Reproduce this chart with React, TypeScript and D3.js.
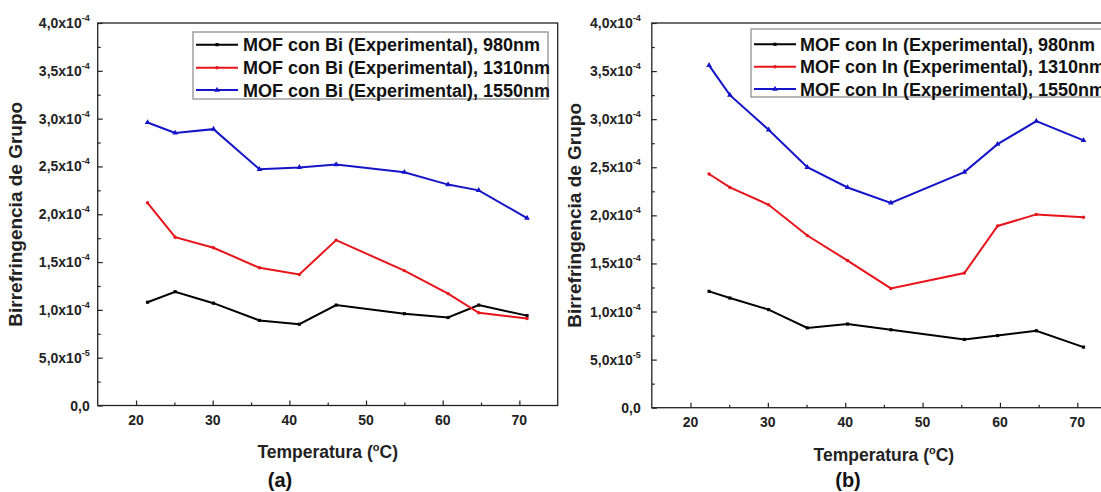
import React, { useEffect, useRef } from 'react';
import * as d3 from 'd3';

// Temperaturas (°C) de cada fibra
const tempBi = [21.5, 25.1, 30.1, 36.1, 41.3, 46.1, 55.0, 60.7, 64.7, 71.0];
const tempIn = [22.4, 25.1, 30.1, 35.1, 40.3, 45.9, 55.4, 59.7, 64.7, 70.8];

// Birrefringencia de grupo, MOF con Bi
const bi980 = [1.08e-4, 1.19e-4, 1.07e-4, 0.89e-4, 0.85e-4, 1.05e-4, 0.96e-4, 0.92e-4, 1.05e-4, 0.94e-4];
const bi1310 = [2.12e-4, 1.76e-4, 1.65e-4, 1.44e-4, 1.37e-4, 1.73e-4, 1.41e-4, 1.17e-4, 0.97e-4, 0.91e-4];
const bi1550 = [2.96e-4, 2.85e-4, 2.89e-4, 2.47e-4, 2.49e-4, 2.52e-4, 2.44e-4, 2.31e-4, 2.25e-4, 1.96e-4];

// Birrefringencia de grupo, MOF con In
const in980 = [1.21e-4, 1.14e-4, 1.02e-4, 0.83e-4, 0.87e-4, 0.81e-4, 0.71e-4, 0.75e-4, 0.80e-4, 0.63e-4];
const in1310 = [2.43e-4, 2.29e-4, 2.11e-4, 1.79e-4, 1.53e-4, 1.24e-4, 1.40e-4, 1.89e-4, 2.01e-4, 1.98e-4];
const in1550 = [3.56e-4, 3.25e-4, 2.89e-4, 2.50e-4, 2.29e-4, 2.13e-4, 2.45e-4, 2.74e-4, 2.98e-4, 2.78e-4];

const wavelengths = ['980nm', '1310nm', '1550nm'];
const colors = ['#000000', '#e8141b', '#1414c8'];

const xTicks = [20, 30, 40, 50, 60, 70];
const xMinor = [25, 35, 45, 55, 65];
const yTicks = [0, 0.5e-4, 1.0e-4, 1.5e-4, 2.0e-4, 2.5e-4, 3.0e-4, 3.5e-4, 4.0e-4];
const yMinor = [0.25e-4, 0.75e-4, 1.25e-4, 1.75e-4, 2.25e-4, 2.75e-4, 3.25e-4, 3.75e-4];
const yMantissa = ['0,0', '5,0x10', '1,0x10', '1,5x10', '2,0x10', '2,5x10', '3,0x10', '3,5x10', '4,0x10'];
const yExponent = ['', '-5', '-4', '-4', '-4', '-4', '-4', '-4', '-4'];

const FONT = '"Liberation Sans", Arial, sans-serif';

function drawPanel(svg, p) {
    const g = svg.append('g');

    const x = d3.scaleLinear().domain([15, 75]).range([p.left, p.right]);
    const y = d3.scaleLinear().domain([0, 4e-4]).range([p.bottom, p.top]);

    // frame
    g.append('rect')
        .attr('x', p.left).attr('y', p.top)
        .attr('width', p.right - p.left).attr('height', p.bottom - p.top)
        .attr('fill', 'none').attr('stroke', '#222').attr('stroke-width', 1.3);

    // ticks (inward)
    const addAxis = (axis, tr) => {
        const a = g.append('g').attr('transform', tr).call(axis);
        a.select('.domain').remove();
        a.selectAll('line').attr('stroke', '#222').attr('stroke-width', 1.2);
        a.selectAll('text').remove();
    };
    addAxis(d3.axisBottom(x).tickValues(xTicks).tickSize(-5).tickFormat(() => ''), `translate(0,${p.bottom})`);
    addAxis(d3.axisBottom(x).tickValues(xMinor).tickSize(-3).tickFormat(() => ''), `translate(0,${p.bottom})`);
    addAxis(d3.axisLeft(y).tickValues(yTicks).tickSize(-5).tickFormat(() => ''), `translate(${p.left},0)`);
    addAxis(d3.axisLeft(y).tickValues(yMinor).tickSize(-3).tickFormat(() => ''), `translate(${p.left},0)`);

    // x tick labels
    g.selectAll('.xl').data(xTicks).enter().append('text')
        .attr('x', d => x(d)).attr('y', p.bottom + 19)
        .attr('text-anchor', 'middle')
        .style('font', `bold 14px ${FONT}`).attr('fill', '#222')
        .text(d => d);

    // y tick labels with superscript exponent
    yTicks.forEach((v, i) => {
        const t = g.append('text')
            .attr('x', p.left - p.labelGap).attr('y', y(v) + 5)
            .attr('text-anchor', 'end')
            .style('font', `bold 14px ${FONT}`).attr('fill', '#222');
        t.append('tspan').text(yMantissa[i]);
        if (yExponent[i]) {
            t.append('tspan').attr('dy', -7).style('font-size', '9px').text(yExponent[i]);
        }
    });

    // axis titles
    const xt = g.append('text')
        .attr('x', (p.left + p.right) / 2).attr('y', p.titleY)
        .attr('text-anchor', 'middle')
        .style('font', `bold 17.5px ${FONT}`).attr('fill', '#222');
    xt.append('tspan').text('Temperatura (');
    xt.append('tspan').attr('dy', -7).style('font-size', '11px').text('o');
    xt.append('tspan').attr('dy', 7).text('C)');

    g.append('text')
        .attr('transform', `translate(${p.yTitleX},${(p.top + p.bottom) / 2}) rotate(-90)`)
        .attr('text-anchor', 'middle')
        .style('font', `bold 19px ${FONT}`).attr('fill', '#222')
        .text('Birrefringencia de Grupo');

    g.append('text')
        .attr('x', p.tagX).attr('y', 487)
        .attr('text-anchor', 'middle')
        .style('font', `bold 20px ${FONT}`).attr('fill', '#111')
        .text(p.tag);

    // series
    const line = d3.line().x(d => x(d[0])).y(d => y(d[1]));
    const symbols = [d3.symbolSquare, d3.symbolCircle, d3.symbolTriangle];
    const sizes = [10, 9, 14];
    p.series.forEach((vals, si) => {
        const pts = p.temps.map((t, i) => [t, vals[i]]);
        g.append('path').datum(pts)
            .attr('d', line)
            .attr('fill', 'none').attr('stroke', colors[si]).attr('stroke-width', 2);
        g.selectAll(`.m${si}`).data(pts).enter().append('path')
            .attr('transform', d => `translate(${x(d[0])},${y(d[1])})`)
            .attr('d', d3.symbol().type(symbols[si]).size(sizes[si]))
            .attr('fill', colors[si]);
    });

    // legend
    const L = p.legend;
    g.append('rect')
        .attr('x', L.x).attr('y', L.y).attr('width', L.w).attr('height', L.h)
        .attr('fill', '#fff').attr('stroke', '#888').attr('stroke-width', 1.2);
    wavelengths.forEach((wl, i) => {
        const ly = L.rows[i];
        g.append('line')
            .attr('x1', L.lx1).attr('x2', L.lx2).attr('y1', ly).attr('y2', ly)
            .attr('stroke', colors[i]).attr('stroke-width', 2);
        g.append('path')
            .attr('transform', `translate(${(L.lx1 + L.lx2) / 2},${ly})`)
            .attr('d', d3.symbol().type(symbols[i]).size(sizes[i]))
            .attr('fill', colors[i]);
        g.append('text')
            .attr('x', L.tx).attr('y', ly + 6.5)
            .style('font', `bold 18px ${FONT}`).attr('fill', '#111')
            .text(`MOF con ${p.dopant} (Experimental), ${wl}`);
    });
}

export default function App() {
    const svgRef = useRef(null);

    useEffect(() => {
        const svg = d3.select(svgRef.current);
        svg.selectAll('*').remove();

        drawPanel(svg, {
            left: 97.7, right: 557.7, top: 23, bottom: 405.5, labelGap: 8,
            titleY: 458, yTitleX: 22, tagX: 280, tag: '(a)', dopant: 'Bi',
            temps: tempBi, series: [bi980, bi1310, bi1550],
            legend: { x: 193, y: 32, w: 355, h: 67, rows: [44.7, 67.7, 90], lx1: 196, lx2: 238, tx: 243 },
        });
        drawPanel(svg, {
            left: 651.8, right: 1116, top: 23, bottom: 407.7, labelGap: 11,
            titleY: 461, yTitleX: 581, tagX: 848, tag: '(b)', dopant: 'In',
            temps: tempIn, series: [in980, in1310, in1550],
            legend: { x: 751, y: 29, w: 380, h: 68, rows: [44.3, 66.7, 89], lx1: 754, lx2: 796, tx: 800 },
        });
    }, []);

    return (
        <svg
            ref={svgRef}
            width={1101}
            height={492}
            style={{ position: 'absolute', left: 0, top: 0, background: '#fff' }}
        />
    );
}
